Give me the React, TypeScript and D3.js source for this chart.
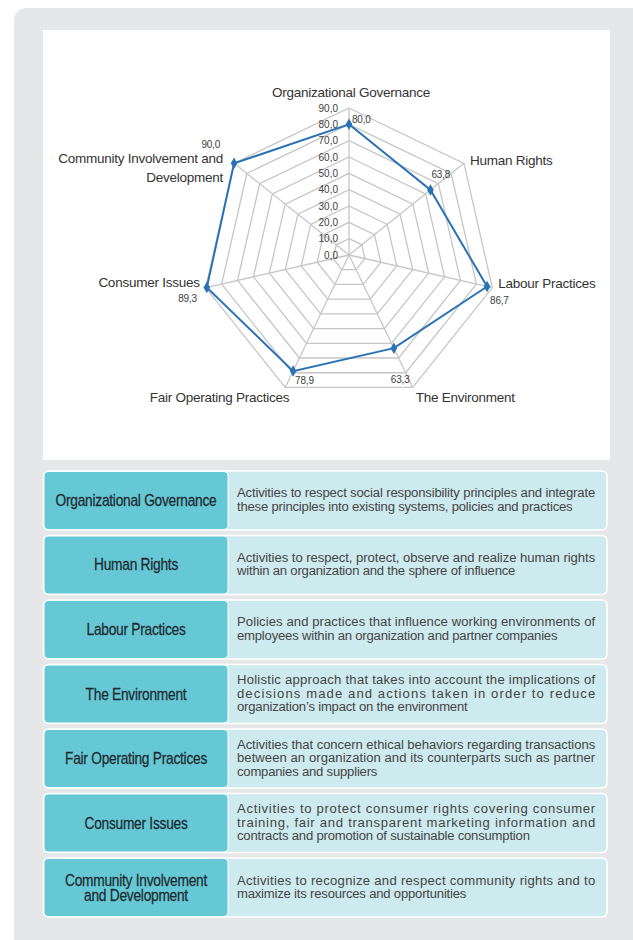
import React from 'react'
import * as d3 from 'd3'

// chart data
const categories = [
  'Organizational Governance',
  'Human Rights',
  'Labour Practices',
  'The Environment',
  'Fair Operating Practices',
  'Consumer Issues',
  'Community Involvement and Development',
]
const scores = [80.0, 63.8, 86.7, 63.3, 78.9, 89.3, 90.0]
const ticks = [0, 10, 20, 30, 40, 50, 60, 70, 80, 90]
const tickLabels = ticks.map((t) => t.toFixed(1).replace('.', ','))
const scoreLabels = scores.map((s) => s.toFixed(1).replace('.', ','))

const axisLabelLines = [
  ['Organizational Governance'],
  ['Human Rights'],
  ['Labour Practices'],
  ['The Environment'],
  ['Fair Operating Practices'],
  ['Consumer Issues'],
  ['Community Involvement and', 'Development'],
]

const tableLabelLines = [
  ['Organizational Governance'],
  ['Human Rights'],
  ['Labour Practices'],
  ['The Environment'],
  ['Fair Operating Practices'],
  ['Consumer Issues'],
  ['Community Involvement', 'and Development'],
]

const descriptions = [
  ['Activities to respect social responsibility principles and integrate', 'these principles into existing systems, policies and practices'],
  ['Activities to respect, protect, observe and realize human rights', 'within an organization and the sphere of influence'],
  ['Policies and practices that influence working environments of', 'employees within an organization and partner companies'],
  ['Holistic approach that takes into account the implications of', 'decisions made and actions taken in order to reduce', 'organization\u2019s impact on the environment'],
  ['Activities that concern ethical behaviors regarding transactions', 'between an organization and its counterparts such as partner', 'companies and suppliers'],
  ['Activities to protect consumer rights covering consumer', 'training, fair and transparent marketing information and', 'contracts and promotion of sustainable consumption'],
  ['Activities to recognize and respect community rights and to', 'maximize its resources and opportunities'],
]

// label placement around the radar (anchor, offsets from the outer vertex)
const axisLabelPos = [
  { anchor: 'middle', dx: 2, dy: -16 },
  { anchor: 'start', dx: 6, dy: -3 },
  { anchor: 'start', dx: 6, dy: -4 },
  { anchor: 'start', dx: 3, dy: 10 },
  { anchor: 'end', dx: 4, dy: 10 },
  { anchor: 'end', dx: -6, dy: -5 },
  { anchor: 'end', dx: -11, dy: -5 },
]
// value labels (offsets from the data point)
const scoreLabelPos = [
  { anchor: 'start', dx: 3, dy: -5 },
  { anchor: 'start', dx: 1, dy: -16 },
  { anchor: 'start', dx: 3, dy: 14 },
  { anchor: 'start', dx: -3, dy: 31 },
  { anchor: 'start', dx: 2, dy: 9 },
  { anchor: 'end', dx: -10, dy: 11 },
  { anchor: 'end', dx: -14, dy: -19 },
]

const W = 633
const H = 940
const cx = 349
const cy = 255
const BLUE = '#2a72b5'
const GRID = '#c6c6c6'
const TEAL = '#67c8d5'
const LIGHT = '#cdeaee'
const FONT = "'Liberation Sans', Arial, sans-serif"

const App = () => {
  const r = d3.scaleLinear().domain([0, 90]).range([0, 147])
  const angle = d3
    .scalePoint<number>()
    .domain(d3.range(categories.length + 1))
    .range([0, 2 * Math.PI])
  const a = (i: number) => angle(i) as number
  const pt = (i: number, v: number): [number, number] => [cx + r(v) * Math.sin(a(i)), cy - r(v) * Math.cos(a(i))]

  const ring = d3
    .lineRadial<number>()
    .angle((_, i) => a(i))
    .curve(d3.curveLinearClosed)

  const dataLine = d3
    .lineRadial<number>()
    .angle((_, i) => a(i))
    .radius((d) => r(d))
    .curve(d3.curveLinearClosed)

  const diamond = d3.symbol().type(d3.symbolDiamond).size(38)()

  // table
  const rowY = d3
    .scaleBand<string>()
    .domain(categories)
    .range([471, 917])
    .paddingInner(0.0853)
  const bh = rowY.bandwidth()
  const descX = 237
  const descW = 358
  const lineH = 13.5
  const descScale = 0.97
  const labelScale = 0.86

  return (
    <svg width={W} height={H} style={{ position: 'absolute', left: 0, top: 0, display: 'block' }}>
      <rect x={0} y={0} width={W} height={H} fill="#ffffff" />
      <rect x={14} y={8} width={640} height={960} rx={12} fill="#e6e7e9" />
      <rect x={43} y={30} width={567} height={430} fill="#ffffff" />

      <g>
        {ticks.slice(1).map((t) => (
          <path
            key={t}
            d={ring.radius(() => r(t))(categories.map(() => t)) || ''}
            transform={`translate(${cx},${cy})`}
            fill="none"
            stroke={GRID}
            strokeWidth={1.3}
          />
        ))}
        {categories.map((c, i) => {
          const [x, y] = pt(i, 90)
          return <line key={c} x1={cx} y1={cy} x2={x} y2={y} stroke={GRID} strokeWidth={1.3} />
        })}
      </g>

      <g fontFamily={FONT} fontSize={10} fill="#404040">
        {ticks.map((t, i) => (
          <text key={t} x={cx - 11} y={cy - r(t)} dy="0.35em" textAnchor="end">
            {tickLabels[i]}
          </text>
        ))}
      </g>

      <path d={dataLine(scores) || ''} transform={`translate(${cx},${cy})`} fill="none" stroke={BLUE} strokeWidth={2} />
      {scores.map((s, i) => {
        const [x, y] = pt(i, s)
        return <path key={i} d={diamond || ''} transform={`translate(${x},${y})`} fill={BLUE} />
      })}

      <g fontFamily={FONT} fontSize={10} fill="#404040">
        {scores.map((s, i) => {
          const [x, y] = pt(i, s)
          const p = scoreLabelPos[i]
          return (
            <text key={i} x={x + p.dx} y={y + p.dy} dy="0.35em" textAnchor={p.anchor} letterSpacing={-0.2}>
              {scoreLabels[i]}
            </text>
          )
        })}
      </g>

      <g fontFamily={FONT} fontSize={13.5} fill="#333333" letterSpacing={-0.25}>
        {axisLabelLines.map((lines, i) => {
          const [x, y] = pt(i, 90)
          const p = axisLabelPos[i]
          return (
            <text key={i} textAnchor={p.anchor}>
              {lines.map((l, j) => (
                <tspan key={j} x={x + p.dx} y={y + p.dy + j * 19} dy="0.35em">
                  {l}
                </tspan>
              ))}
            </text>
          )
        })}
      </g>

      <g>
        {categories.map((c, i) => {
          const y0 = rowY(c) as number
          const labels = tableLabelLines[i]
          const desc = descriptions[i]
          const mid = y0 + bh / 2
          return (
            <g key={c}>
              <rect x={43.5} y={y0} width={563.5} height={bh} rx={5} fill={LIGHT} stroke="#ffffff" strokeWidth={1.5} />
              <rect x={44} y={y0 + 0.5} width={184} height={bh - 1} rx={4} fill={TEAL} stroke="#ffffff" strokeWidth={1} />
              {labels.map((l, j) => (
                <g key={j} transform={`translate(136,${mid + 5.5 + (j - (labels.length - 1) / 2) * 15}) scale(${labelScale},1)`}>
                  <text
                    x={0}
                    y={0}
                    fontFamily={FONT}
                    fontSize={16}
                    fill="#1e2b30"
                    stroke="#1e2b30"
                    strokeWidth={0.25}
                    textAnchor="middle"
                    letterSpacing={-0.3}
                  >
                    {l}
                  </text>
                </g>
              ))}
              {desc.map((l, j) => {
                const last = j === desc.length - 1
                return (
                  <g key={'d' + j} transform={`translate(${descX},${mid + 3.75 + (j - (desc.length - 1) / 2) * lineH}) scale(${descScale},1)`}>
                    <text
                      x={0}
                      y={0}
                      fontFamily={FONT}
                      fontSize={13.5}
                      fill="#454545"
                      letterSpacing={-0.2}
                      textLength={last ? undefined : descW / descScale}
                      lengthAdjust="spacing"
                    >
                      {l}
                    </text>
                  </g>
                )
              })}
            </g>
          )
        })}
      </g>
    </svg>
  )
}

export default App
